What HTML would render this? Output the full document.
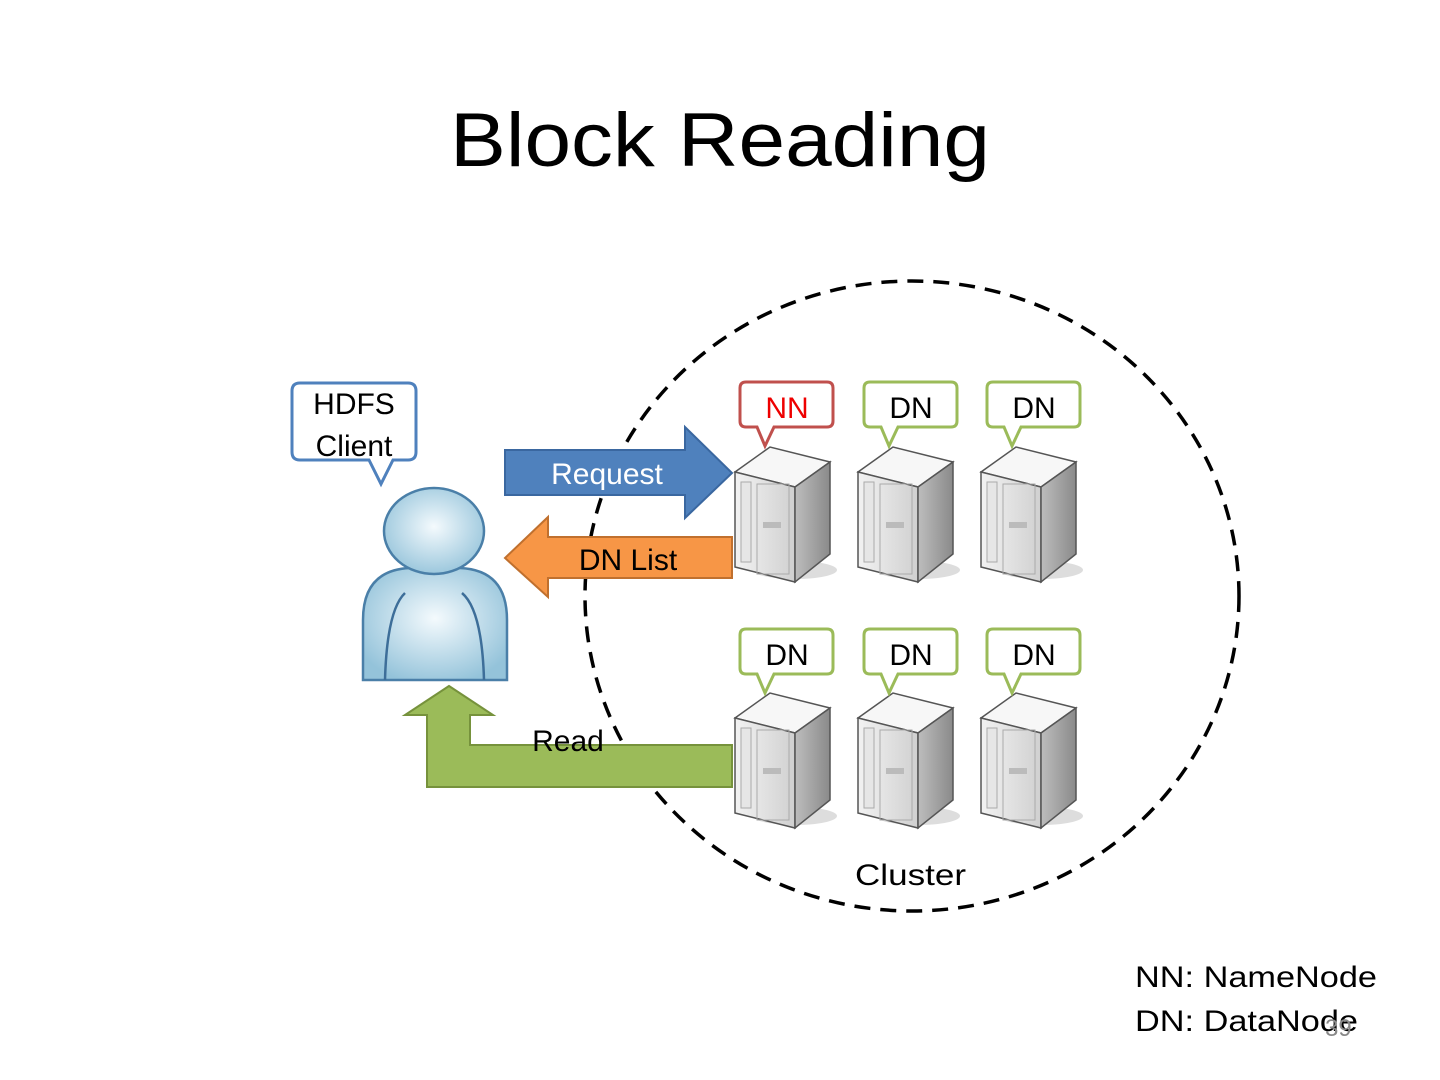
<!DOCTYPE html>
<html><head><meta charset="utf-8"><style>
html,body{margin:0;padding:0;background:#fff;}
svg{display:block;font-family:"Liberation Sans",sans-serif;}
</style></head><body>
<svg width="1440" height="1080" viewBox="0 0 1440 1080" xmlns="http://www.w3.org/2000/svg">
<defs>
<radialGradient id="pg" cx="0.5" cy="0.45" r="0.6"><stop offset="0" stop-color="#f4fafd"/><stop offset="1" stop-color="#94c3da"/></radialGradient>
<linearGradient id="sf" x1="0" x2="1"><stop offset="0" stop-color="#f2f2f2"/><stop offset="1" stop-color="#d0d0d0"/></linearGradient>
<linearGradient id="ss" x1="0" x2="1"><stop offset="0" stop-color="#bdbdbd"/><stop offset="1" stop-color="#8a8a8a"/></linearGradient>
<g id="srv">
<ellipse cx="60" cy="128" rx="42" ry="9" fill="#ddd"/>
<polygon points="0,30 35,5 95,20 60,45" fill="#f7f7f7" stroke="#555" stroke-width="1.5"/>
<polygon points="0,30 60,45 60,140 0,125" fill="url(#sf)" stroke="#555" stroke-width="1.5"/>
<polygon points="60,45 95,20 95,112 60,140" fill="url(#ss)" stroke="#555" stroke-width="1.5"/>
<rect x="6" y="40" width="10" height="80" fill="#e6e6e6" stroke="#aaa"/>
<rect x="22" y="42" width="32" height="90" fill="none" stroke="#aaa"/>
<rect x="28" y="80" width="18" height="6" fill="#bbb"/>
</g>
<g id="nn"><path d="M6,0 H87 Q93,0 93,6 V39 Q93,45 87,45 H34 L25,64 L17,45 H6 Q0,45 0,39 V6 Q0,0 6,0Z" fill="#fff" stroke="#c0504d" stroke-width="3"/></g>
<g id="dn"><path d="M6,0 H87 Q93,0 93,6 V39 Q93,45 87,45 H34 L25,64 L17,45 H6 Q0,45 0,39 V6 Q0,0 6,0Z" fill="#fff" stroke="#9bbb59" stroke-width="3"/></g>
</defs>
<text x="450" y="166" font-size="76" textLength="540" lengthAdjust="spacingAndGlyphs" fill="#000">Block Reading</text>
<ellipse cx="912" cy="596" rx="327" ry="315" fill="none" stroke="#000" stroke-width="3.5" stroke-dasharray="16,10"/>
<text x="855" y="885" font-size="30" textLength="111" lengthAdjust="spacingAndGlyphs">Cluster</text>
<path d="M300,383 H408 Q416,383 416,391 V452 Q416,460 408,460 H393 L381,484 L369,460 H300 Q292,460 292,452 V391 Q292,383 300,383Z" fill="#fff" stroke="#4f81bd" stroke-width="3"/>
<text x="354" y="414" font-size="30" text-anchor="middle">HDFS</text>
<text x="354" y="456" font-size="30" text-anchor="middle">Client</text>
<path d="M363,680 V620 Q363,570 410,568 H460 Q507,570 507,620 V680Z" fill="url(#pg)" stroke="#4a7fa8" stroke-width="2.5"/>
<ellipse cx="434" cy="531" rx="50" ry="43" fill="url(#pg)" stroke="#4a7fa8" stroke-width="2.5"/>
<path d="M405,593 Q387,610 385,680 M462,593 Q482,610 484,680" fill="none" stroke="#3d6e99" stroke-width="2.5"/>
<polygon points="505,450 685,450 685,427 732,473 685,518 685,495 505,495" fill="#4f81bd" stroke="#3a67a0" stroke-width="2"/>
<text x="607" y="484" font-size="30" fill="#fff" text-anchor="middle">Request</text>
<polygon points="732,537 548,537 548,517 505,558 548,597 548,578 732,578" fill="#f79646" stroke="#c0702e" stroke-width="2"/>
<text x="628" y="570" font-size="30" text-anchor="middle">DN List</text>
<polygon points="732,745 470,745 470,715 493,715 449,686 405,715 427,715 427,787 732,787" fill="#9bbb59" stroke="#76923c" stroke-width="2"/>
<text x="568" y="751" font-size="30" text-anchor="middle">Read</text>
<use href="#srv" x="735" y="442"/><use href="#srv" x="858" y="442"/><use href="#srv" x="981" y="442"/>
<use href="#srv" x="735" y="688"/><use href="#srv" x="858" y="688"/><use href="#srv" x="981" y="688"/>
<use href="#nn" x="740" y="382"/><use href="#dn" x="864" y="382"/><use href="#dn" x="987" y="382"/>
<use href="#dn" x="740" y="629"/><use href="#dn" x="864" y="629"/><use href="#dn" x="987" y="629"/>
<text x="787" y="418" font-size="30" text-anchor="middle" fill="#e00">NN</text>
<text x="911" y="418" font-size="30" text-anchor="middle">DN</text>
<text x="1034" y="418" font-size="30" text-anchor="middle">DN</text>
<text x="787" y="665" font-size="30" text-anchor="middle">DN</text>
<text x="911" y="665" font-size="30" text-anchor="middle">DN</text>
<text x="1034" y="665" font-size="30" text-anchor="middle">DN</text>
<text x="1135" y="987" font-size="30" textLength="242" lengthAdjust="spacingAndGlyphs">NN: NameNode</text>
<text x="1135" y="1031" font-size="30" textLength="223" lengthAdjust="spacingAndGlyphs">DN: DataNode</text>
<text x="1325" y="1036" font-size="24" fill="#888">39</text>
</svg>
</body></html>
